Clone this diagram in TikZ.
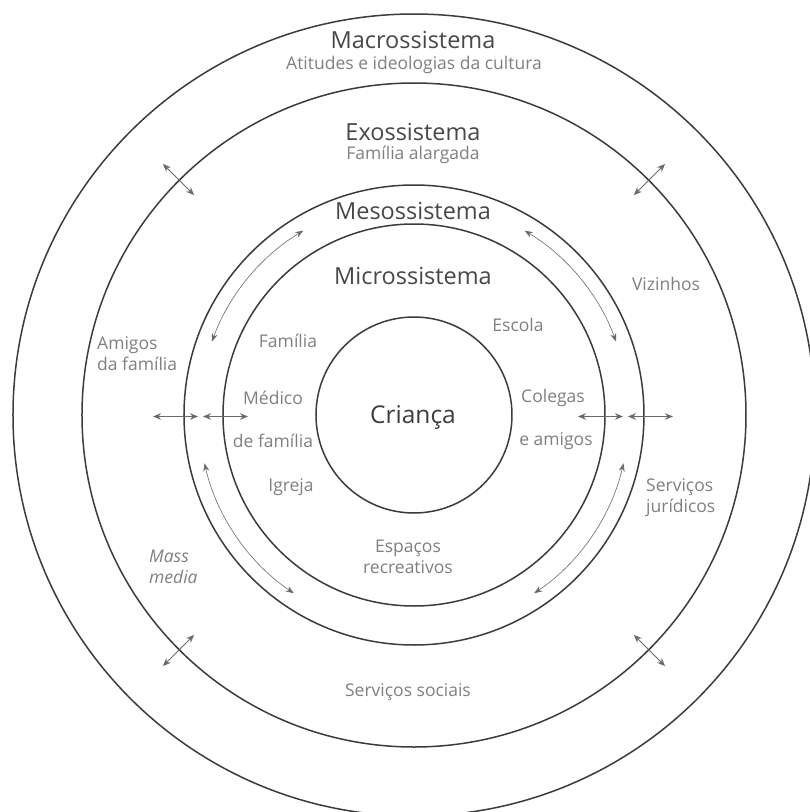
\documentclass[tikz,border=0pt]{standalone}
\usepackage{fontspec}
\setmainfont{Open Sans}
\usetikzlibrary{arrows.meta}
\definecolor{ringcol}{HTML}{3C3C3C}
\definecolor{titlecol}{HTML}{484848}
\definecolor{labelcol}{HTML}{808080}
\definecolor{arrowcol}{HTML}{6A6A6A}
\tikzset{
  ring/.style={draw=ringcol, line width=1.5pt},
  systitle/.style={text=titlecol, font=\fontsize{23.5}{27}\selectfont, inner sep=0pt},
  lbl/.style={text=labelcol, font=\fontsize{17.5}{21}\selectfont, inner sep=0pt, align=center},
  lblleft/.style={lbl, align=left, anchor=west},
  link/.style={draw=arrowcol, line width=0.8pt, {Stealth[length=8pt,width=6.5pt]}-{Stealth[length=8pt,width=6.5pt]}},
  thinlink/.style={draw=arrowcol, line width=0.6pt, {Stealth[length=8pt,width=6pt]}-{Stealth[length=8pt,width=6pt]}}
}
\begin{document}
\begin{tikzpicture}[x=1pt,y=1pt]
\useasboundingbox (-414,-397) rectangle (396,415);
\clip (-414,-397) rectangle (396,415);
\fill[white] (-414,-397) rectangle (396,415);
% rings
\node[ring, circle, minimum size=196pt, inner sep=0pt] (crianca) at (0,0) {};
\draw[ring] (0,0) circle[radius=191];
\draw[ring] (0,0) circle[radius=230];
\draw[ring] (0,0) circle[radius=332];
\draw[ring] (0,0) circle[radius=401];
% titles
\node[systitle] (macro) at (-1,375) {Macrossistema};
\node[lbl] (atit) at (0,350) {Atitudes e ideologias da cultura};
\node[systitle] (exo) at (-1,283) {Exossistema};
\node[lbl] (falarg) at (-1,260) {Família alargada};
\node[systitle] (meso) at (-1,204) {Mesossistema};
\node[systitle] (micro) at (-1,139) {Microssistema};
\node[systitle, text=ringcol, font=\fontsize{24.5}{28}\selectfont] (crlabel) at (-1,-2) {Criança};
% labels
\node[lbl] (vizinhos) at (252,131) {Vizinhos};
\node[lbl] (escola) at (104,90) {Escola};
\node[lbl] (familia) at (-126,74) {Família};
\node[lblleft] (amigosfam) at (-317,61.5) {Amigos\\da família};
\node[lbl] (medico) at (-141,17) {Médico};
\node[lbl] (colegas) at (139,17) {Colegas};
\node[lbl] (defam) at (-141,-26) {de família};
\node[lbl] (eamigos) at (142,-26) {e amigos};
\node[lbl] (igreja) at (-123,-72) {Igreja};
\node[lblleft] (servjur) at (232,-82.5) {Serviços\\jurídicos};
\node[lblleft, font=\fontsize{17.5}{21}\selectfont\itshape] (mass) at (-265,-151.5) {Mass\\media};
\node[lbl] (espacos) at (-6,-142) {Espaços\\recreativos};
\node[lbl] (servsoc) at (-6,-277) {Serviços sociais};
% horizontal arrows
\coordinate (hl1a) at (-261,-1.5); \coordinate (hl1b) at (-216,-1.5);
\coordinate (hl2a) at (-211,-1.5); \coordinate (hl2b) at (-166,-1.5);
\coordinate (hr1a) at (164,-1.5);  \coordinate (hr1b) at (209,-1.5);
\coordinate (hr2a) at (214,-1.5);  \coordinate (hr2b) at (259,-1.5);
\draw[link] (hl1a) -- (hl1b);
\draw[link] (hl2a) -- (hl2b);
\draw[link] (hr1a) -- (hr1b);
\draw[link] (hr2a) -- (hr2b);
% diagonal arrows across the exosystem ring
\foreach \ang/\nm in {45/ne,135/nw,225/sw,315/se}{
  \coordinate (d\nm a) at (\ang:311);
  \coordinate (d\nm b) at (\ang:355);
  \draw[link] (d\nm a) -- (d\nm b);
}
% curved arrows in the mesosystem band
\coordinate (c1a) at (160:215); \coordinate (c2a) at (59:215);
\coordinate (c3a) at (193:215); \coordinate (c4a) at (-13:215);
\draw[thinlink] (c1a) arc[start angle=160, end angle=121, radius=215];
\draw[thinlink] (c2a) arc[start angle=59, end angle=20, radius=215];
\draw[thinlink] (c3a) arc[start angle=193, end angle=236, radius=215];
\draw[thinlink] (c4a) arc[start angle=-13, end angle=-56, radius=215];
\end{tikzpicture}
\end{document}
